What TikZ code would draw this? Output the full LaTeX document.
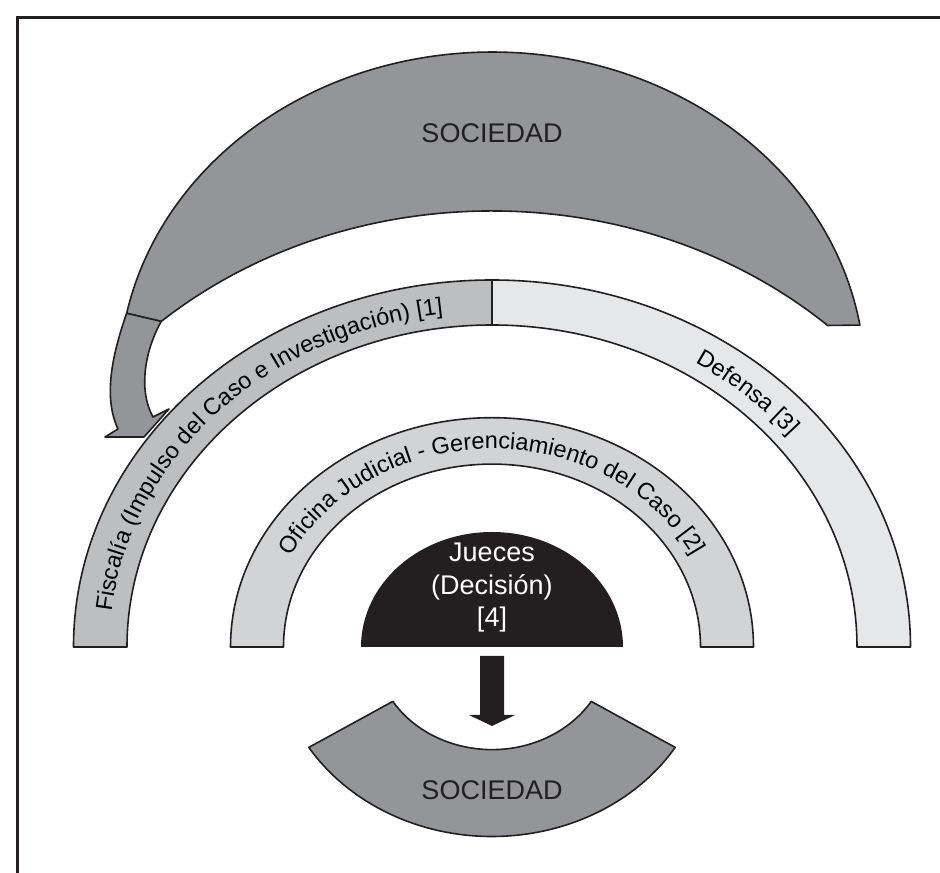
\documentclass[tikz,border=0pt]{standalone}
\usepackage{fontspec}
\setmainfont{Liberation Sans}
\usetikzlibrary{decorations.text}
\definecolor{dk}{HTML}{231F20}
\definecolor{gfifty}{HTML}{939598}
\definecolor{gthirty}{HTML}{BCBEC0}
\definecolor{gtwenty}{HTML}{D1D3D4}
\definecolor{gten}{HTML}{E6E7E8}
\newcommand\arcfont{\fontsize{23.5}{28}\selectfont}
\newcommand\bigfont{\fontsize{27}{32.5}\selectfont}
\begin{document}
\begin{tikzpicture}[x=1pt,y=1pt,
  band/.style={draw=dk, line width=1.6pt, line join=round},
  bigtext/.style={font=\bigfont, text=dk, inner sep=0pt}]
\useasboundingbox (0,0) rectangle (940,873);
% frame (only left and top edges are visible)
\begin{scope}
\clip (0,0) rectangle (940,873);
\draw[line width=3.5pt, draw=dk] (17.5,-20) -- (17.5,855.5) -- (960,855.5);
\end{scope}
% top SOCIEDAD curved band
\draw[band, fill=gfifty] (859.9,547.9) arc[start angle=9.5, end angle=168.4, x radius=373, y radius=327]
  -- (161.3,551.6) arc[start angle=131.7, end angle=47.5, x radius=497, y radius=436] -- cycle;
% shaft and arrow head
\draw[band, fill=gfifty] (126.6,559.7) .. controls (114,523) and (102,478) .. (118,444)
  -- (105,436) -- (144,436) -- (169,464) -- (153,456)
  .. controls (138,483) and (145,523) .. (161.3,551.6) -- cycle;
% Fiscalia ring part
\draw[band, fill=gthirty] (73.5,226) arc[start angle=180, end angle=90, x radius=418.5, y radius=367]
  -- (492,548) arc[start angle=90, end angle=180, x radius=365, y radius=322] -- cycle;
% Defensa ring part
\draw[band, fill=gten] (492,593) arc[start angle=90, end angle=0, x radius=418.5, y radius=367]
  -- (857,226) arc[start angle=0, end angle=90, x radius=365, y radius=322] -- cycle;
% Oficina ring
\draw[band, fill=gtwenty] (230.5,226) arc[start angle=180, end angle=0, x radius=261.5, y radius=229.3]
  -- (700.5,226) arc[start angle=0, end angle=180, x radius=208.5, y radius=182.9] -- cycle;
% Jueces half disc
\fill[dk] (361,226) arc[start angle=180, end angle=0, x radius=131, y radius=115] -- cycle;
% down arrow
\fill[dk] (480,217) -- (504,217) -- (504,158) -- (515,158) -- (492,147) -- (469,158) -- (480,158) -- cycle;
% bottom SOCIEDAD band
\draw[band, fill=gfifty] (392.8,171.6) arc[start angle=212, end angle=328, x radius=117, y radius=102.6]
  -- (675.2,125.6) arc[start angle=328, end angle=212, x radius=216, y radius=189.5] -- cycle;
% texts
\node[bigtext] (soctop) at (492,740) {SOCIEDAD};
\node[bigtext] (socbot) at (492,83) {SOCIEDAD};
\node[font=\bigfont, text=white, align=center, inner sep=0pt] (jueces) at (492,285) {Jueces\\(Decisión)\\{[4]}};
\path[decorate, decoration={text along path, text={|\arcfont|Fiscalía (Impulso del Caso e Investigación) [1]}, text align=left}]
  (111.6,261.1) arc[start angle=174, end angle=80, x radius=382.5, y radius=335.5];
\path[decorate, decoration={text along path, text={|\arcfont|Defensa [3]}, text align=center}]
  (622.8,541.3) arc[start angle=70, end angle=26, x radius=382.5, y radius=335.5];
\path[decorate, decoration={text along path, text={|\arcfont|Oficina Judicial - Gerenciamiento del Caso [2]}, text align=center}]
  (266.9,243.3) arc[start angle=175, end angle=5, x radius=226, y radius=198];
\end{tikzpicture}
\end{document}
